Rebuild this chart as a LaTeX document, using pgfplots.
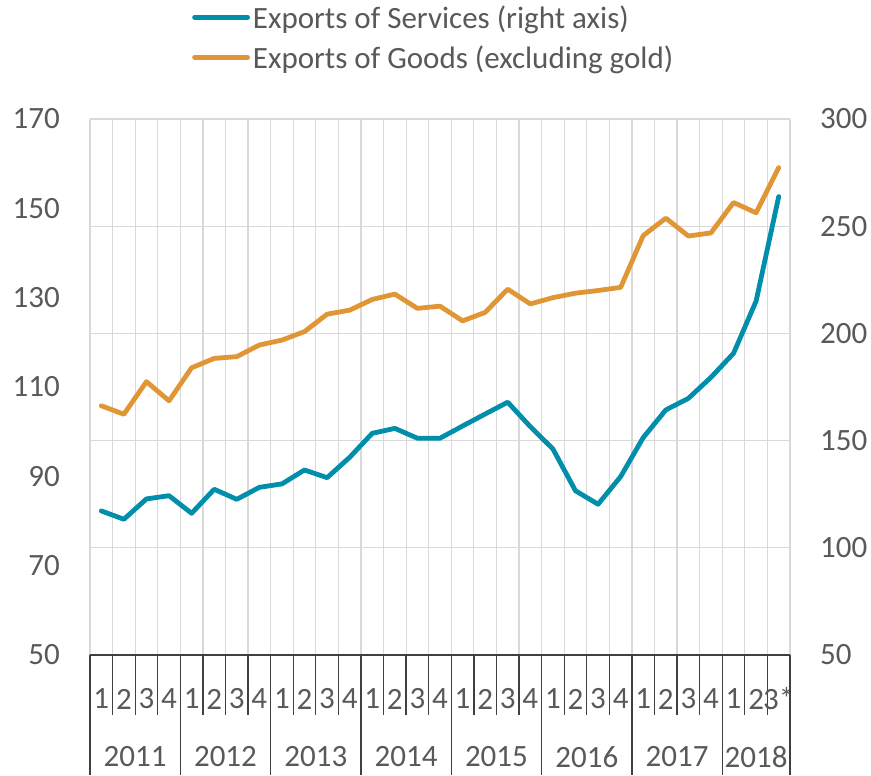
\documentclass[border=0pt]{standalone}
\usepackage{fontspec}
\setmainfont{Carlito}
\usepackage{pgfplots}
\usepackage{pgfplotstable}
\pgfplotsset{compat=1.18}
\definecolor{svc}{RGB}{0,142,170}
\definecolor{gds}{RGB}{224,150,52}
\definecolor{gridc}{RGB}{217,217,217}
\definecolor{txt}{RGB}{89,89,89}
\definecolor{axc}{RGB}{64,64,64}
\newcommand{\bigfont}{\fontsize{31}{37}\selectfont}

\pgfplotstableread{
i goods services
0 105.8 117.2
1 103.9 113.3
2 111.2 122.8
3 106.9 124.3
4 114.3 116.1
5 116.4 127.3
6 116.8 122.6
7 119.4 128.2
8 120.5 129.8
9 122.4 136.3
10 126.3 132.7
11 127.2 142.2
12 129.6 153.4
13 130.8 155.7
14 127.6 151.1
15 128.1 151.1
16 124.8 156.8
17 126.7 162.4
18 131.9 167.9
19 128.6 156.5
20 130.0 146.1
21 131.0 126.6
22 131.6 120.3
23 132.3 133.2
24 143.9 151.4
25 147.8 164.3
26 143.8 169.7
27 144.5 179.5
28 151.3 190.7
29 149.0 215.1
30 159.1 263.8
}\datatable

\begin{document}
\begin{tikzpicture}
\begin{axis}[
  set layers,
  scale only axis, width=700pt, height=536pt,
  xmin=-0.5, xmax=30.5, ymin=50, ymax=170,
  clip=false,
  axis x line*=bottom, axis y line*=left,
  y axis line style={draw=none},
  x axis line style={axc, line width=1.3pt, -},
  tick align=outside,
  major tick length=0pt,
  minor tick length=60pt,
  xtick={0,...,30},
  xticklabels={1,2,3,4,1,2,3,4,1,2,3,4,1,2,3,4,1,2,3,4,1,2,3,4,1,2,3,4,1,2,3*},
  minor xtick={-0.5,0.5,...,30.5},
  xminorgrids,
  minor x grid style={gridc, line width=1.2pt},
  minor x tick style={axc, line width=1.3pt},
  ytick={50,70,...,170},
  ytick style={draw=none},
  tick label style={font=\bigfont, text=txt},
  /pgf/number format/assume math mode=true,
  xticklabel style={anchor=center, yshift=-44pt},
  yticklabel style={anchor=east, inner sep=0pt, xshift=-30pt},
]
\addplot[gds, line width=4.8pt, line join=round, line cap=round] table[x=i, y=goods] {\datatable};
\draw[axc, line width=1.3pt] (axis cs:-0.5,50) -- ([yshift=-120pt]axis cs:-0.5,50);
\draw[axc, line width=1.3pt] (axis cs:3.5,50) -- ([yshift=-120pt]axis cs:3.5,50);
\draw[axc, line width=1.3pt] (axis cs:7.5,50) -- ([yshift=-120pt]axis cs:7.5,50);
\draw[axc, line width=1.3pt] (axis cs:11.5,50) -- ([yshift=-120pt]axis cs:11.5,50);
\draw[axc, line width=1.3pt] (axis cs:15.5,50) -- ([yshift=-120pt]axis cs:15.5,50);
\draw[axc, line width=1.3pt] (axis cs:19.5,50) -- ([yshift=-120pt]axis cs:19.5,50);
\draw[axc, line width=1.3pt] (axis cs:23.5,50) -- ([yshift=-120pt]axis cs:23.5,50);
\draw[axc, line width=1.3pt] (axis cs:27.5,50) -- ([yshift=-120pt]axis cs:27.5,50);
\draw[axc, line width=1.3pt] (axis cs:30.5,50) -- ([yshift=-120pt]axis cs:30.5,50);
\node[font=\bigfont, text=txt] at (axis cs:1.5,50) [yshift=-102pt] {2011};
\node[font=\bigfont, text=txt] at (axis cs:5.5,50) [yshift=-102pt] {2012};
\node[font=\bigfont, text=txt] at (axis cs:9.5,50) [yshift=-102pt] {2013};
\node[font=\bigfont, text=txt] at (axis cs:13.5,50) [yshift=-102pt] {2014};
\node[font=\bigfont, text=txt] at (axis cs:17.5,50) [yshift=-102pt] {2015};
\node[font=\bigfont, text=txt] at (axis cs:21.5,50) [yshift=-102pt] {2016};
\node[font=\bigfont, text=txt] at (axis cs:25.5,50) [yshift=-102pt] {2017};
\node[font=\bigfont, text=txt] at (axis cs:29,50) [yshift=-102pt] {2018};
\end{axis}
\begin{axis}[
  set layers,
  scale only axis, width=700pt, height=536pt,
  xmin=-0.5, xmax=30.5, ymin=50, ymax=300,
  axis x line=none, axis y line*=right,
  y axis line style={draw=none},
  ytick={50,100,...,300},
  ytick style={draw=none},
  major tick length=0pt,
  ymajorgrids,
  major grid style={gridc, line width=1.2pt},
  tick label style={font=\bigfont, text=txt},
  /pgf/number format/assume math mode=true,
  yticklabel style={anchor=west, inner sep=0pt, xshift=30pt},
  legend cell align=left,
  legend style={at={(rel axis cs:0,1)}, anchor=north west, xshift=102pt, yshift=114pt,
    draw=none, fill=none, inner sep=0pt, font=\bigfont, text=txt,
    nodes={inner sep=0pt, text height=23pt, text depth=7pt}, row sep=10pt,
    /tikz/every odd column/.append style={column sep=3pt}},
  legend image code/.code={\draw[#1, line cap=round] (0pt,0.3em) -- (53pt,0.3em);},
]
\addplot[svc, line width=4.8pt, line join=round, line cap=round] table[x=i, y=services] {\datatable};
\addlegendentry{Exports of Services (right axis)}
\addlegendimage{gds, line width=4.8pt}
\addlegendentry{Exports of Goods (excluding gold)}
\end{axis}
\path (-90pt,-120pt) rectangle (781pt,655pt);
\end{tikzpicture}
\end{document}
